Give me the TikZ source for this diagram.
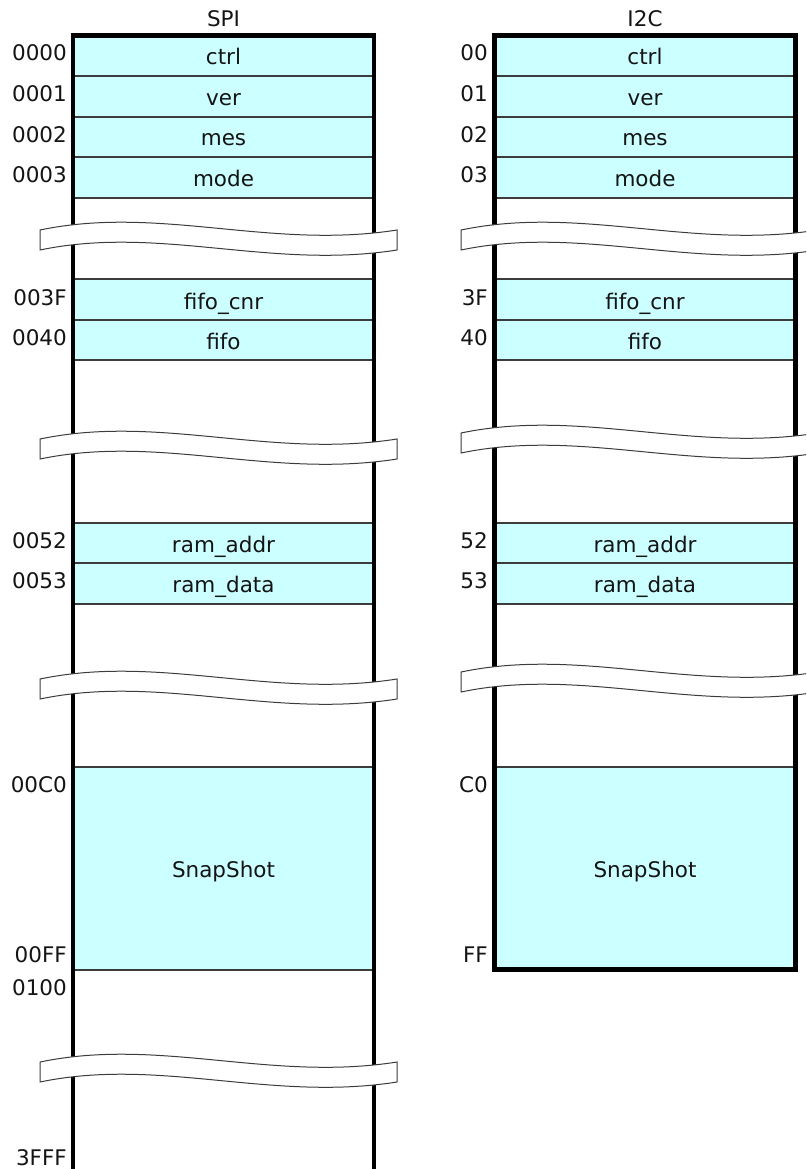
\documentclass[tikz,border=0pt]{standalone}
\usepackage{fontspec}
\setmainfont{DejaVu Sans}
\definecolor{regfill}{HTML}{CCFFFF}
\definecolor{gridline}{HTML}{3C3C3C}
\definecolor{ink}{HTML}{141414}
\tikzset{
  wavebreak/.pic={
    \path[brk] (0,0) .. controls (120,-25) and (230,20) .. (357,0)
      -- (357,20) .. controls (230,40) and (120,-5) .. (0,20) -- cycle;
  }
}
\begin{document}
\begin{tikzpicture}[x=1pt,y=-1pt,
  reg/.style={fill=regfill,draw=gridline,line width=1.3pt},
  frame/.style={line width=4.5pt,draw=black},
  brk/.style={fill=white,draw=gridline,line width=1pt},
  lbl/.style={anchor=base east,inner sep=0pt,text=ink,font=\fontsize{21.5}{22}\selectfont},
  txt/.style={anchor=base,inner sep=0pt,text=ink,font=\fontsize{21.5}{22}\selectfont}]
\useasboundingbox (0,0) rectangle (806,1169);
\clip (0,0) rectangle (806,1169);

% ---------------- SPI ----------------
\draw[reg] (73,35.5) rectangle (374,76);
\draw[reg] (73,76) rectangle (374,117);
\draw[reg] (73,117) rectangle (374,157);
\draw[reg] (73,157) rectangle (374,198);
\draw[reg] (73,279) rectangle (374,320);
\draw[reg] (73,320) rectangle (374,360);
\draw[reg] (73,523) rectangle (374,563);
\draw[reg] (73,563) rectangle (374,604);
\draw[reg] (73,767) rectangle (374,970);
\draw[frame] (73,1180) -- (73,35.5) -- (374,35.5) -- (374,1180);

\pic at (40,230) {wavebreak};
\pic at (40,439) {wavebreak};
\pic at (40,679) {wavebreak};
\pic at (40,1062) {wavebreak};

\node[txt] (spititle) at (223.5,27) {SPI};
\node[txt] (sctrl) at (223.5,65) {ctrl};
\node[txt] (sver) at (223.5,105.5) {ver};
\node[txt] (smes) at (223.5,146) {mes};
\node[txt] (smode) at (223.5,186.5) {mode};
\node[txt] (sfifocnr) at (223.5,309) {fifo\_cnr};
\node[txt] (sfifo) at (223.5,349) {fifo};
\node[txt] (sramaddr) at (223.5,552) {ram\_addr};
\node[txt] (sramdata) at (223.5,592.5) {ram\_data};
\node[txt] (ssnap) at (223.5,877) {SnapShot};

\node[lbl] (sa0) at (67,61) {0000};
\node[lbl] (sa1) at (67,102) {0001};
\node[lbl] (sa2) at (67,142.5) {0002};
\node[lbl] (sa3) at (67,182.5) {0003};
\node[lbl] (sa3f) at (67,305) {003F};
\node[lbl] (sa40) at (67,345) {0040};
\node[lbl] (sa52) at (67,548) {0052};
\node[lbl] (sa53) at (67,588) {0053};
\node[lbl] (sac0) at (67,792) {00C0};
\node[lbl] (saff) at (67,962) {00FF};
\node[lbl] (sa100) at (67,995) {0100};
\node[lbl] (sa3fff) at (67,1165) {3FFF};

% ---------------- I2C ----------------
\draw[reg] (494.5,35.5) rectangle (795.5,76);
\draw[reg] (494.5,76) rectangle (795.5,117);
\draw[reg] (494.5,117) rectangle (795.5,157);
\draw[reg] (494.5,157) rectangle (795.5,198);
\draw[reg] (494.5,279) rectangle (795.5,320);
\draw[reg] (494.5,320) rectangle (795.5,360);
\draw[reg] (494.5,523) rectangle (795.5,563);
\draw[reg] (494.5,563) rectangle (795.5,604);
\draw[reg] (494.5,767) rectangle (795.5,969.5);
\draw[frame] (494.5,35.5) rectangle (795.5,969.5);

\pic at (461,230) {wavebreak};
\pic at (461,433) {wavebreak};
\pic at (461,672) {wavebreak};

\node[txt] (i2ctitle) at (645,27) {I2C};
\node[txt] (ictrl) at (645,65) {ctrl};
\node[txt] (iver) at (645,105.5) {ver};
\node[txt] (imes) at (645,146) {mes};
\node[txt] (imode) at (645,186.5) {mode};
\node[txt] (ififocnr) at (645,309) {fifo\_cnr};
\node[txt] (ififo) at (645,349) {fifo};
\node[txt] (iramaddr) at (645,552) {ram\_addr};
\node[txt] (iramdata) at (645,592.5) {ram\_data};
\node[txt] (isnap) at (645,877) {SnapShot};

\node[lbl] (ia0) at (488,61) {00};
\node[lbl] (ia1) at (488,102) {01};
\node[lbl] (ia2) at (488,142.5) {02};
\node[lbl] (ia3) at (488,182.5) {03};
\node[lbl] (ia3f) at (488,305) {3F};
\node[lbl] (ia40) at (488,345) {40};
\node[lbl] (ia52) at (488,548) {52};
\node[lbl] (ia53) at (488,588) {53};
\node[lbl] (iac0) at (488,792) {C0};
\node[lbl] (iaff) at (488,962) {FF};
\end{tikzpicture}
\end{document}
